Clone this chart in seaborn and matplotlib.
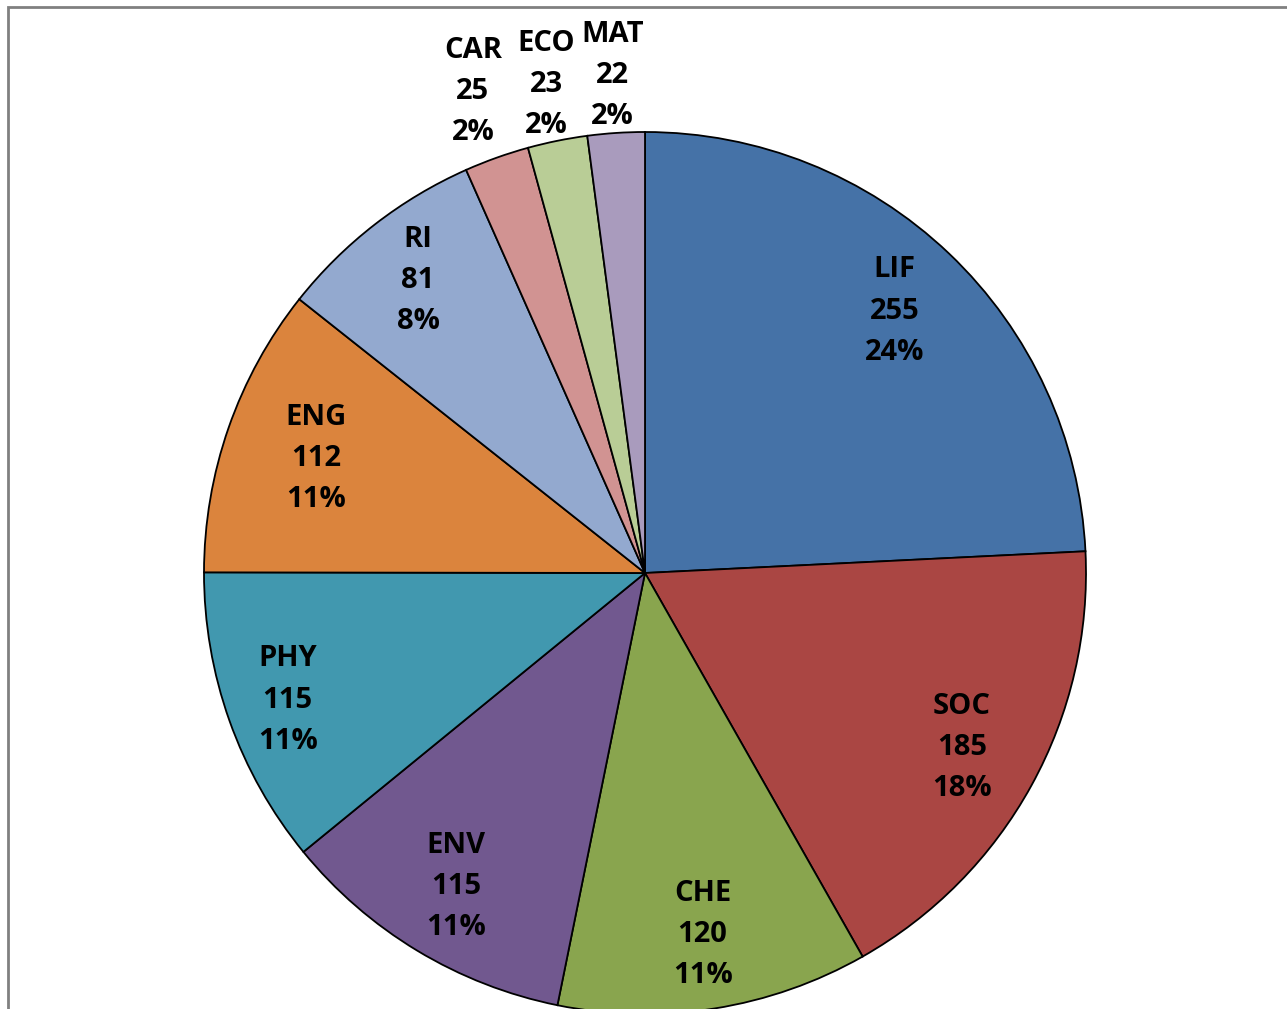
import numpy as np
import matplotlib
matplotlib.use("Agg")
from matplotlib import pyplot as plt
from matplotlib.patches import Rectangle
import seaborn as sns

# 資料
subjects = ["LIF", "SOC", "CHE", "ENV", "PHY", "ENG", "RI", "CAR", "ECO", "MAT"]
counts = [255, 185, 120, 115, 115, 112, 81, 25, 23, 22]
colors = ["#4572A7", "#AA4643", "#89A54E", "#71588F", "#4198AF",
          "#DB843D", "#93A9CF", "#D19392", "#B9CD96", "#A99BBD"]
# 標籤離圓心的距離(以半徑為單位)
label_dist = [0.82, 0.82, 0.83, 0.83, 0.86, 0.79, 0.84, 1.16, 1.13, 1.13]


def pieChart():
    sns.set_style("white")
    plt.rcParams["font.family"] = ["Open Sans", "DejaVu Sans"]

    W, H = 1287, 1009
    fig = plt.figure(figsize=(W / 100, H / 100), dpi=100)
    # 圓心(645, 573)，半徑441像素
    r_px = 441
    half = 1.3 * r_px
    cx, cy = 645, H - 573
    ax = fig.add_axes([(cx - half) / W, (cy - half) / H, 2 * half / W, 2 * half / H])

    wedges, _ = ax.pie(
        counts,
        colors=colors,
        startangle=90,
        counterclock=False,
        wedgeprops=dict(edgecolor="black", linewidth=1.3),
    )
    ax.set_xlim(-1.3, 1.3)
    ax.set_ylim(-1.3, 1.3)
    ax.set_aspect("equal")
    ax.axis("off")

    total = sum(counts)
    for w, name, n, dist in zip(wedges, subjects, counts, label_dist):
        mid = np.deg2rad((w.theta1 + w.theta2) / 2)
        pct = round(n / total * 100)
        ax.text(dist * np.cos(mid), dist * np.sin(mid), f"{name}\n{n}\n{pct}%",
                ha="center", va="center", fontsize=21, fontweight="bold",
                linespacing=1.55, color="black")

    # 外框
    fig.add_artist(Rectangle((8 / W, -0.1), 1.2, (H - 7) / H + 0.1,
                             transform=fig.transFigure, fill=False,
                             edgecolor="#808080", linewidth=2))
    fig.savefig("out.png", dpi=100, facecolor="white")


def main():
    pieChart()


if __name__ == "__main__":
    main()
